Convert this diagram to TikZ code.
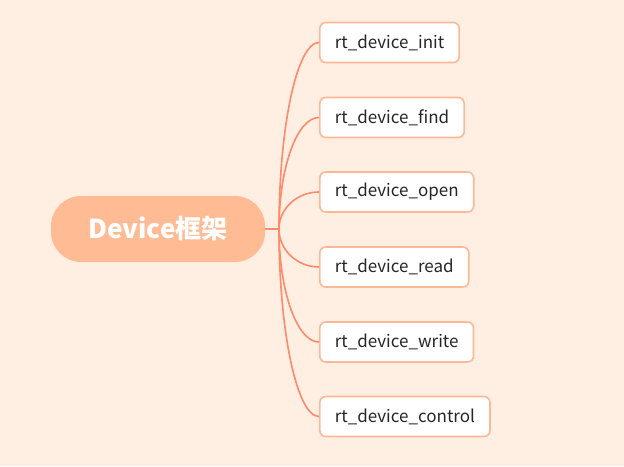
\documentclass[tikz,border=0pt]{standalone}
\usepackage{fontspec}
\usetikzlibrary{calc}
\setmainfont{Noto Sans CJK SC}
\definecolor{bg}{HTML}{FFEFE3}
\definecolor{rootfill}{HTML}{FFBB94}
\definecolor{linec}{HTML}{FF8A6A}
\definecolor{boxline}{HTML}{FFB896}
\definecolor{txt}{HTML}{262626}
\begin{document}
\begin{tikzpicture}[x=1pt,y=-1pt,
  rootnode/.style={fill=rootfill, rounded corners=30pt, minimum width=214pt, minimum height=66pt, inner sep=0pt, text=white, font=\fontsize{26}{30}\selectfont\bfseries},
  leaf/.style={draw=boxline, line width=1.6pt, fill=white, rounded corners=6pt, minimum height=40pt, inner xsep=15pt, anchor=west, text=txt, font=\fontsize{17}{20}\selectfont},
  conn/.style={draw=linec, line width=1.6pt}]
\fill[bg] (0,0) rectangle (624,466);
\useasboundingbox (0,0) rectangle (624,466);
\node[rootnode] (root) at (158,229) {Device框架};
\coordinate (hub) at (279,229);
\node[leaf] (n1) at (319,42.5) {rt\_device\_init};
\node[leaf] (n2) at (319,117.5) {rt\_device\_find};
\node[leaf] (n3) at (319,192) {rt\_device\_open};
\node[leaf] (n4) at (319,267) {rt\_device\_read};
\node[leaf] (n5) at (319,342) {rt\_device\_write};
\node[leaf] (n6) at (319,416.5) {rt\_device\_control};
\draw[conn] (root.east) -- (hub);
\foreach \n in {n1,n2,n3,n4,n5,n6}{
  \draw[conn] (hub) .. controls ($(hub)!0.55!(hub |- \n.west)$) and ($(\n.west)!0.55!(hub |- \n.west)$) .. (\n.west);
}
\end{tikzpicture}
\end{document}
